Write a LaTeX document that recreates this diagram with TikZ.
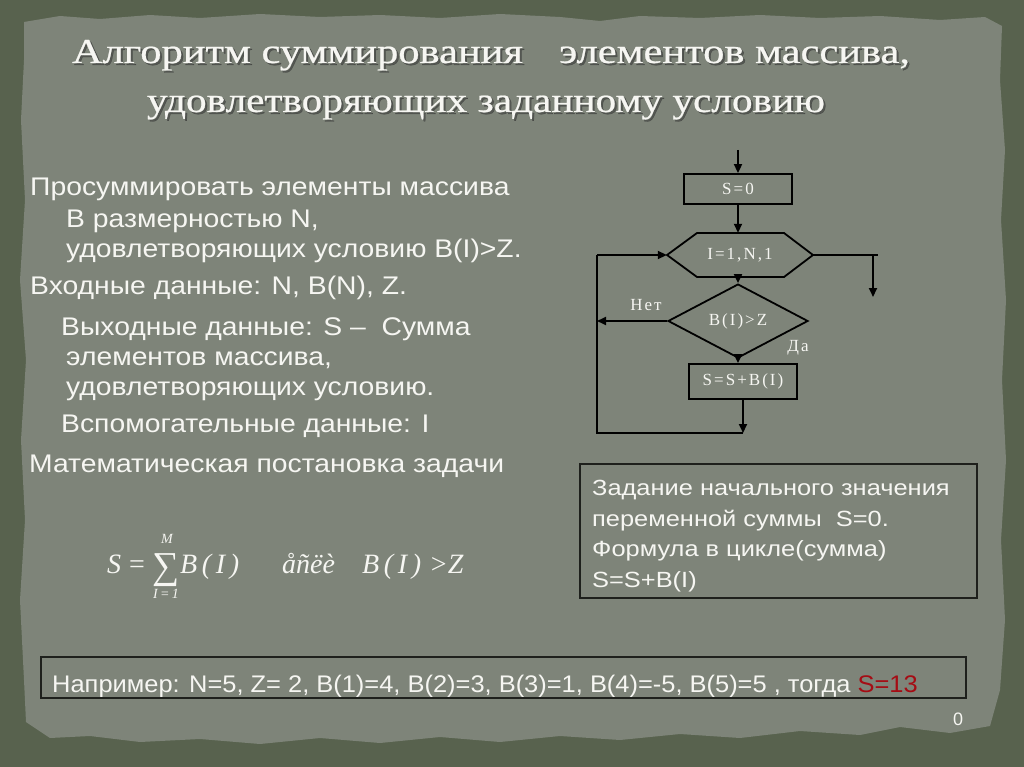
\documentclass[tikz,border=0pt]{standalone}
\usepackage{fontspec}
\usepackage{graphicx}
\setmainfont{Liberation Sans}
\newfontfamily\tnr{Liberation Serif}
\newfontfamily\ttlfont[FakeBold=0.6]{Liberation Serif}
\newfontfamily\flfont[LetterSpace=12]{Liberation Serif}
\usetikzlibrary{arrows.meta,shapes.geometric}
\definecolor{outerc}{RGB}{88,98,78}
\definecolor{paperc}{RGB}{126,132,121}
\definecolor{txt}{RGB}{246,246,242}
\definecolor{redc}{RGB}{165,12,20}
\definecolor{boxc}{RGB}{30,32,28}
\newcommand{\bx}[1]{\scalebox{1.11}[1]{#1}}
\newcommand{\nx}[1]{\scalebox{1.155}[1]{#1}}
\begin{document}
\begin{tikzpicture}[x=1pt,y=-1pt,
  body/.style={anchor=base west, text=txt, inner sep=0pt, font=\fontsize{25.5}{30}\selectfont},
  note/.style={anchor=base west, text=txt, inner sep=0pt, font=\fontsize{22}{25}\selectfont},
  ttl/.style={anchor=base, inner sep=0pt, font=\ttlfont\fontsize{35}{40}\selectfont},
  fl/.style={line width=1.8pt, black},
  arr/.style={fl, -{Triangle[length=9pt,width=8pt]}},
  fbox/.style={draw=black, line width=1.8pt, rectangle, inner sep=0pt, text=txt, font=\flfont\fontsize{17}{20}\selectfont},
  flab/.style={text=txt, inner sep=0pt, font=\flfont\fontsize{17}{20}\selectfont},
  frame/.style={draw=boxc, line width=1.3pt},
  mth/.style={anchor=base west, text=txt, inner sep=0pt, font=\tnr\itshape\fontsize{28}{32}\selectfont},
  mths/.style={anchor=base, text=txt, inner sep=0pt, font=\tnr\itshape\fontsize{14}{16}\selectfont}
]
\useasboundingbox (0,0) rectangle (1024,767);
\fill[outerc] (0,0) rectangle (1024,767);
% torn paper
\fill[paperc] (24,22) -- (60,16) -- (100,19) -- (150,15) -- (200,18) -- (260,14) -- (320,17) -- (380,15) -- (440,18) -- (500,14) -- (560,17) -- (600,21) -- (640,16) -- (700,18) -- (760,15) -- (820,18) -- (880,16) -- (940,20) -- (985,17) -- (1002,26)
  -- (1000,80) -- (1005,150) -- (1001,220) -- (1006,300) -- (1002,380) -- (1006,460) -- (1001,540) -- (1005,620) -- (1000,690) -- (990,726)
  -- (950,733) -- (900,727) -- (860,735) -- (800,731) -- (740,738) -- (680,734) -- (620,740) -- (560,736) -- (500,742) -- (440,737) -- (380,743) -- (320,738) -- (260,744) -- (200,739) -- (140,742) -- (90,736) -- (50,738) -- (26,722)
  -- (24,680) -- (20,600) -- (25,520) -- (21,440) -- (26,360) -- (20,280) -- (25,200) -- (21,120) -- (24,60) -- cycle;

% title
\node[ttl, text=black!80, opacity=0.55] at (493,65) {\resizebox{838pt}{\height}{Алгоритм суммирования\hspace{0.6em} элементов массива,}};
\node[ttl, text=txt] (t1) at (491,63) {\resizebox{838pt}{\height}{Алгоритм суммирования\hspace{0.6em} элементов массива,}};
\node[ttl, text=black!80, opacity=0.55] at (488,114) {\resizebox{678pt}{\height}{удовлетворяющих заданному условию}};
\node[ttl, text=txt] (t2) at (486,112) {\resizebox{678pt}{\height}{удовлетворяющих заданному условию}};

% body text
\node[body] (b1) at (30,196) {\bx{Просуммировать элементы массива}};
\node[body] (b2) at (66,227) {\bx{В размерностью N,}};
\node[body] (b3) at (66,257) {\bx{удовлетворяющих условию B(I)>Z.}};
\node[body] (b4) at (30,294) {\bx{Входные данные: N, B(N), Z.}};
\node[body] (b5) at (61,335) {\bx{Выходные данные: S –\ \ Сумма}};
\node[body] (b6) at (66,365) {\bx{элементов массива,}};
\node[body] (b7) at (66,395) {\bx{удовлетворяющих условию.}};
\node[body] (b8) at (61,432) {\bx{Вспомогательные данные: I}};
\node[body] (b9) at (29,472) {\bx{Математическая постановка задачи}};

% formula
\node[mth] (fS) at (107,573) {S};
\node[mth, font=\tnr\fontsize{28}{32}\selectfont] (feq) at (129,573) {=};
\node[anchor=base, text=txt, inner sep=0pt, font=\tnr\fontsize{38}{42}\selectfont] (fsum) at (166,578) {∑};
\node[mths] (fM) at (167,543) {M};
\node[mths] (fI) at (166,598) {I\,=\,1};
\node[mth] (fB) at (180,573) {B\,(\,I\,)};
\node[mth] (fw) at (282,573) {åñëè};
\node[mth] (fB2) at (362,573) {B\,(\,I\,)\;>Z};

% flowchart
\coordinate (top) at (738,150);
\node[fbox, minimum width=108pt, minimum height=30pt] (s0) at (738,189) {S=0};
\node[minimum width=146pt, minimum height=44pt, inner sep=0pt] (hex) at (740,255) {};
\draw[fl] (667,255) -- (697,233) -- (784,233) -- (813,255) -- (784,277) -- (697,277) -- cycle;
\node[flab] at (hex.center) {I=1,N,1};
\node[draw=black, line width=1.8pt, diamond, minimum width=140pt, minimum height=56pt, inner sep=0pt, text=txt, font=\flfont\fontsize{17}{20}\selectfont] (dia) at (738,321) {B(I)>Z};
\node[fbox, minimum width=108pt, minimum height=35pt] (acc) at (743,381.5) {S=S+B(I)};
\coordinate (exitend) at (878,255);
\coordinate (exittop) at (873,256);
\coordinate (exitbot) at (873,297);
\coordinate (nol) at (597,321);
\coordinate (lb) at (743,433);
\coordinate (lbl) at (597,433);
\coordinate (ltl) at (597,255);

\draw[arr] (top) -- (s0.north);
\draw[arr] (s0.south) -- (hex.north -| s0.south);
\draw[arr] (hex.south -| dia.north) -- (dia.north);
\draw[arr] (dia.south) -- (acc.north -| dia.south);
\draw[arr] (acc.south) -- (lb);
\draw[fl] (lb) -- (lbl) -- (ltl);
\draw[arr] (ltl) -- (hex.west);
\draw[arr] (dia.west) -- (nol);
\draw[fl] (hex.east) -- (exitend);
\draw[arr] (exittop) -- (exitbot);
\node[flab] (net) at (646,305) {Нет};
\node[flab] (da) at (798,348) {Да};

% note box
\draw[frame] (580,464) rectangle (977,598);
\node[note] (n1) at (592,495) {\nx{Задание начального значения}};
\node[note] (n2) at (592,526) {\nx{переменной суммы\ \ S=0.}};
\node[note] (n3) at (592,556.5) {\nx{Формула в цикле(сумма)}};
\node[note] (n4) at (592,587) {\nx{S=S+B(I)}};

% example box
\draw[frame] (41,657) rectangle (966,698);
\node[anchor=base west, text=txt, inner sep=0pt, font=\fontsize{24}{28}\selectfont] (ex) at (52,692) {\scalebox{1.06}[1]{Например: N=5, Z= 2, B(1)=4, B(2)=3, B(3)=1, B(4)=-5, B(5)=5 , тогда \textcolor{redc}{S=13}}};

\node[anchor=base, text=txt, inner sep=0pt, font=\fontsize{18}{20}\selectfont] (pg) at (958,725) {0};
\end{tikzpicture}
\end{document}
